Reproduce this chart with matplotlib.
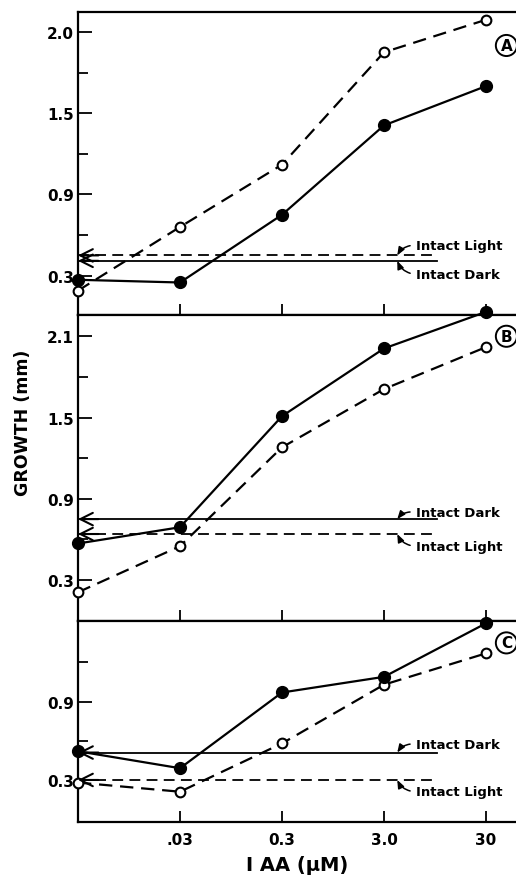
import matplotlib.pyplot as plt
import numpy as np

# IAA concentration categories (0 = no IAA, at the left axis)
x_pos = [0, 1, 2, 3, 4]
x_labels = [".03", "0.3", "3.0", "30"]

# growth (mm) per panel, dark = solid/filled, light = dashed/open
dark_a = [0.27, 0.25, 0.75, 1.41, 1.70]
light_a = [0.19, 0.66, 1.12, 1.95, 2.19]
dark_b = [0.57, 0.69, 1.51, 2.01, 2.28]
light_b = [0.21, 0.55, 1.28, 1.71, 2.02]
dark_c = [0.52, 0.39, 0.97, 1.09, 1.50]
light_c = [0.28, 0.21, 0.58, 1.03, 1.27]

# intact controls
intact_dark = [0.41, 0.75, 0.51]
intact_light = [0.45, 0.64, 0.30]

panel_letters = ["A", "B", "C"]
y_ticks = [[0.3, 0.9, 1.5, 2.1], [0.3, 0.9, 1.5, 2.1], [0.3, 0.9]]
y_ticklabels = [["0.3", "0.9", "1.5", "2.0"], ["0.3", "0.9", "1.5", "2.1"], ["0.3", "0.9"]]
y_minor = [[0.6, 1.2, 1.8], [0.6, 1.2, 1.8], [0.6, 1.2]]
y_lims = [(0.01, 2.245), (0.0, 2.257), (-0.022, 1.52)]

plt.rcParams["font.family"] = "DejaVu Sans"
plt.rcParams["font.weight"] = "bold"

W, H = 516, 878
fig = plt.figure(figsize=(W / 100, H / 100), dpi=100)

left = 78 / W
x_max = (W - 78) / 102
# (top, bottom) of each panel in pixels
rows = [(13.3, 316), (316, 621.7), (621.7, 823)]

dark_all = [dark_a, dark_b, dark_c]
light_all = [light_a, light_b, light_c]

# where the "Intact ..." labels sit in each panel
label_y = [
    {"light": 0.525, "dark": 0.31},
    {"dark": 0.80, "light": 0.55},
    {"dark": 0.575, "light": 0.21},
]
letter_y = [2.0, 2.1, 1.35]

dash = (0, (6, 3.5))

for i, (top, bot) in enumerate(rows):
    ax = fig.add_axes([left, 1 - bot / H, 1 - left, (bot - top) / H])
    ax.set_xlim(0, x_max)
    ax.set_ylim(*y_lims[i])

    ax.plot(x_pos, light_all[i], color="black", lw=1.6, linestyle=dash,
            marker="o", markersize=7, markerfacecolor="white",
            markeredgewidth=1.5, clip_on=False, zorder=3)
    ax.plot(x_pos, dark_all[i], color="black", lw=1.6, marker="o",
            markersize=8.5, clip_on=False, zorder=4)

    # intact reference lines with chevrons at the axis
    line_end = 3.52
    ax.plot([0, line_end], [intact_dark[i]] * 2, color="black", lw=1.3)
    ax.plot([0, line_end], [intact_light[i]] * 2, color="black", lw=1.3,
            linestyle=dash)
    for yv in (intact_dark[i], intact_light[i]):
        ax.annotate("", xy=(0.0, yv), xytext=(0.2, yv),
                    arrowprops=dict(arrowstyle="->,head_length=0.9,head_width=0.45",
                                    lw=1.5, color="black", shrinkA=0, shrinkB=0))

    for key, yv in (("dark", intact_dark[i]), ("light", intact_light[i])):
        ty = label_y[i][key]
        rad = 0.3 if ty > yv else -0.3
        name = "Intact Dark" if key == "dark" else "Intact Light"
        ax.annotate(name, xy=(3.13, yv), xytext=(3.31, ty), fontsize=9.5,
                    ha="left", va="center",
                    arrowprops=dict(arrowstyle="-|>,head_length=0.5,head_width=0.2",
                                    lw=1.1, color="black", shrinkA=2, shrinkB=0,
                                    relpos=(0, 0.5),
                                    connectionstyle=f"arc3,rad={rad}"))

    ax.text(4.2, letter_y[i], panel_letters[i], fontsize=11, ha="center",
            va="center", clip_on=False,
            bbox=dict(boxstyle="circle,pad=0.2", fc="white", ec="black", lw=1.4))

    ax.set_yticks(y_ticks[i])
    ax.set_yticklabels(y_ticklabels[i], fontsize=11)
    ax.set_yticks(y_minor[i], minor=True)
    ax.set_xticks(x_pos[1:])
    ax.tick_params(axis="y", which="major", direction="in", length=10, width=1.3, pad=3)
    ax.tick_params(axis="y", which="minor", direction="in", length=7, width=1.3)
    ax.tick_params(axis="x", direction="in", length=8, width=1.3, pad=7)
    if i < 2:
        ax.set_xticklabels([])
    else:
        ax.set_xticklabels(x_labels, fontsize=11)
        ax.set_xlabel("I AA (\u03bcM)", fontsize=14, fontweight="bold", labelpad=6)

    ax.spines["right"].set_visible(False)
    for s in ("left", "top", "bottom"):
        ax.spines[s].set_linewidth(1.6)

fig.text(23 / W, 1 - 423 / H, "GROWTH (mm)", rotation=90, fontsize=12.5,
         ha="center", va="center")

fig.savefig("out.png", dpi=100)
